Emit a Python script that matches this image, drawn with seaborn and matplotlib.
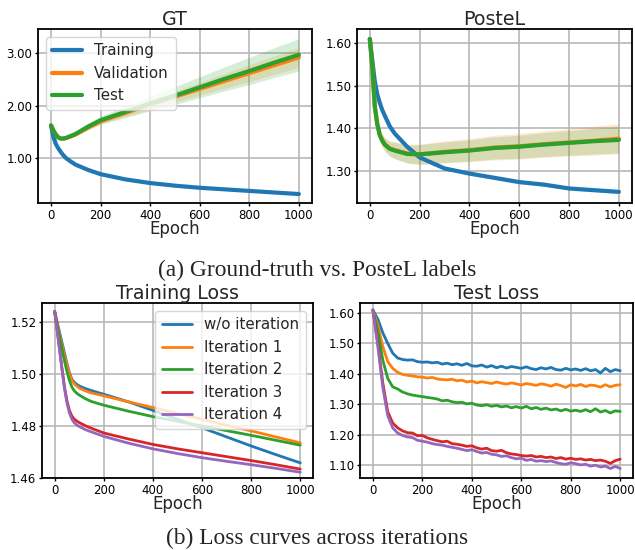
import numpy as np
import pandas as pd
import seaborn as sns
import matplotlib.pyplot as plt
from matplotlib.ticker import MultipleLocator, FormatStrFormatter

# ---- (a) GT vs PosteL: mean curves and std bands ----
ep_top = [0, 10, 20, 30, 40, 50, 60, 80, 100, 150, 200, 300, 400, 500, 600, 700, 800, 900, 1000]

gt_train = [1.62, 1.40, 1.26, 1.18, 1.11, 1.05, 1.00, 0.93, 0.87, 0.77, 0.69, 0.59, 0.52, 0.47, 0.43, 0.40, 0.37, 0.34, 0.31]
gt_val = [1.62, 1.52, 1.44, 1.39, 1.37, 1.37, 1.38, 1.41, 1.45, 1.58, 1.70, 1.86, 2.02, 2.17, 2.32, 2.47, 2.62, 2.77, 2.92]
gt_test = [1.62, 1.52, 1.44, 1.39, 1.37, 1.37, 1.38, 1.42, 1.46, 1.60, 1.72, 1.88, 2.04, 2.19, 2.35, 2.51, 2.66, 2.82, 2.97]
gt_train_sd = [0.0, 0.005, 0.006, 0.006, 0.006, 0.006, 0.006, 0.006, 0.006, 0.006, 0.006, 0.006, 0.006, 0.006, 0.006, 0.006, 0.006, 0.006, 0.006]
gt_val_sd = [0.0, 0.005, 0.008, 0.01, 0.012, 0.014, 0.016, 0.02, 0.025, 0.035, 0.05, 0.07, 0.09, 0.105, 0.12, 0.14, 0.16, 0.175, 0.19]
gt_test_sd = [0.0, 0.006, 0.01, 0.013, 0.016, 0.02, 0.024, 0.03, 0.04, 0.06, 0.08, 0.11, 0.14, 0.17, 0.2, 0.23, 0.26, 0.285, 0.31]

pl_train = [1.61, 1.56, 1.51, 1.48, 1.46, 1.443, 1.43, 1.405, 1.388, 1.357, 1.332, 1.306, 1.294, 1.284, 1.274, 1.268, 1.259, 1.255, 1.251]
pl_val = [1.61, 1.545, 1.452, 1.41, 1.385, 1.372, 1.363, 1.353, 1.349, 1.341, 1.339, 1.345, 1.349, 1.355, 1.358, 1.363, 1.367, 1.371, 1.376]
pl_test = [1.61, 1.545, 1.451, 1.41, 1.384, 1.371, 1.362, 1.352, 1.348, 1.340, 1.339, 1.344, 1.348, 1.354, 1.357, 1.362, 1.366, 1.370, 1.373]
pl_train_sd = [0.0, 0.004, 0.004, 0.004, 0.004, 0.004, 0.004, 0.004, 0.004, 0.004, 0.004, 0.004, 0.004, 0.004, 0.004, 0.004, 0.004, 0.004, 0.004]
pl_val_sd = [0.0, 0.006, 0.01, 0.012, 0.014, 0.015, 0.016, 0.018, 0.02, 0.022, 0.024, 0.026, 0.027, 0.029, 0.03, 0.031, 0.032, 0.034, 0.035]
pl_test_sd = [0.0, 0.005, 0.009, 0.011, 0.013, 0.014, 0.015, 0.017, 0.019, 0.021, 0.023, 0.024, 0.025, 0.026, 0.027, 0.028, 0.029, 0.03, 0.031]

# ---- (b) training loss across iterations ----
ep_tr = [0, 10, 20, 30, 40, 50, 60, 70, 80, 90, 100, 125, 150, 200, 300, 400, 500, 600, 700, 800, 900, 1000]
tr_wo = [1.524, 1.520, 1.516, 1.512, 1.508, 1.504, 1.5005, 1.498, 1.4968, 1.496, 1.4954, 1.4944, 1.4936, 1.4922, 1.4893, 1.4860, 1.4826, 1.4793, 1.4758, 1.4723, 1.4690, 1.4658]
tr_it1 = [1.524, 1.5195, 1.515, 1.511, 1.507, 1.5035, 1.5, 1.4975, 1.4962, 1.4953, 1.4946, 1.4935, 1.4927, 1.4916, 1.4893, 1.4871, 1.4848, 1.4826, 1.4803, 1.4781, 1.4758, 1.4735]
tr_it2 = [1.524, 1.519, 1.514, 1.5095, 1.505, 1.501, 1.4975, 1.495, 1.4935, 1.4926, 1.4919, 1.4905, 1.4894, 1.4880, 1.4857, 1.4836, 1.4818, 1.4800, 1.4782, 1.4764, 1.4745, 1.4726]
tr_it3 = [1.524, 1.517, 1.5095, 1.502, 1.495, 1.4897, 1.486, 1.4838, 1.4826, 1.4819, 1.4813, 1.4801, 1.4791, 1.4773, 1.4750, 1.4729, 1.4712, 1.4697, 1.4682, 1.4667, 1.4651, 1.4634]
tr_it4 = [1.524, 1.5168, 1.5092, 1.5015, 1.4943, 1.4888, 1.485, 1.4826, 1.4812, 1.4804, 1.4798, 1.4786, 1.4777, 1.4760, 1.4734, 1.4712, 1.4694, 1.4678, 1.4664, 1.4651, 1.4637, 1.4622]

# ---- (b) test loss across iterations (every 20 epochs) ----
ep_te = list(range(0, 1001, 20))
te_wo = [1.610, 1.580, 1.535, 1.500, 1.468, 1.452, 1.447, 1.445, 1.446, 1.440, 1.438, 1.439, 1.436, 1.438, 1.432,
         1.435, 1.430, 1.433, 1.428, 1.434, 1.426, 1.425, 1.429, 1.422, 1.427, 1.420, 1.425, 1.419, 1.424, 1.421,
         1.418, 1.423, 1.417, 1.414, 1.420, 1.416, 1.421, 1.414, 1.412, 1.418, 1.413, 1.416, 1.411, 1.417, 1.410,
         1.414, 1.403, 1.418, 1.407, 1.414, 1.410]
te_it1 = [1.610, 1.560, 1.490, 1.440, 1.418, 1.405, 1.398, 1.395, 1.393, 1.390, 1.389, 1.386, 1.388, 1.383, 1.381,
          1.380, 1.382, 1.377, 1.379, 1.373, 1.376, 1.370, 1.374, 1.371, 1.368, 1.373, 1.369, 1.366, 1.370, 1.367,
          1.363, 1.368, 1.365, 1.362, 1.367, 1.364, 1.359, 1.366, 1.361, 1.355, 1.364, 1.360, 1.365, 1.358, 1.363,
          1.361, 1.356, 1.364, 1.357, 1.362, 1.364]
te_it2 = [1.610, 1.540, 1.445, 1.385, 1.357, 1.350, 1.340, 1.334, 1.330, 1.327, 1.325, 1.322, 1.320, 1.317, 1.311,
          1.313, 1.308, 1.305, 1.306, 1.301, 1.303, 1.297, 1.295, 1.298, 1.293, 1.296, 1.291, 1.294, 1.288, 1.292,
          1.287, 1.293, 1.285, 1.289, 1.283, 1.287, 1.281, 1.284, 1.278, 1.283, 1.277, 1.280, 1.276, 1.282, 1.275,
          1.285, 1.274, 1.279, 1.271, 1.278, 1.276]
te_it3 = [1.610, 1.500, 1.370, 1.275, 1.238, 1.222, 1.212, 1.206, 1.205, 1.196, 1.197, 1.189, 1.184, 1.180, 1.176,
          1.178, 1.170, 1.168, 1.165, 1.161, 1.163, 1.156, 1.152, 1.155, 1.147, 1.145, 1.148, 1.140, 1.136, 1.134,
          1.131, 1.129, 1.131, 1.126, 1.128, 1.124, 1.126, 1.121, 1.124, 1.119, 1.122, 1.118, 1.120, 1.116, 1.118,
          1.114, 1.116, 1.112, 1.105, 1.114, 1.119]
te_it4 = [1.610, 1.490, 1.355, 1.262, 1.222, 1.205, 1.197, 1.192, 1.190, 1.181, 1.178, 1.175, 1.170, 1.167, 1.165,
          1.161, 1.158, 1.155, 1.151, 1.147, 1.150, 1.144, 1.139, 1.141, 1.135, 1.133, 1.128, 1.130, 1.124, 1.120,
          1.122, 1.115, 1.118, 1.112, 1.114, 1.111, 1.113, 1.108, 1.104, 1.102, 1.107, 1.104, 1.100, 1.102, 1.096,
          1.099, 1.093, 1.096, 1.088, 1.095, 1.088]

iter_labels = ["w/o iteration", "Iteration 1", "Iteration 2", "Iteration 3", "Iteration 4"]
colors = sns.color_palette("tab10")[:5]

sns.set_style("whitegrid", {"axes.edgecolor": "black", "grid.color": "#b8b8b8",
                            "xtick.bottom": True, "ytick.left": True})
plt.rcParams["font.family"] = ["DejaVu Sans"]

fig = plt.figure(figsize=(6.35, 5.5), dpi=100)
ax_gt = fig.add_axes([0.060, 0.631, 0.431, 0.316])
ax_pl = fig.add_axes([0.562, 0.631, 0.433, 0.316])
ax_tr = fig.add_axes([0.066, 0.131, 0.427, 0.318])
ax_te = fig.add_axes([0.567, 0.131, 0.430, 0.318])


def band_plot(ax, curves):
    for (mean, sd, label), c in zip(curves, colors):
        m = np.array(mean)
        s = np.array(sd)
        ax.fill_between(ep_top, m - s, m + s, color=c, alpha=0.18, linewidth=0)
        sns.lineplot(x=ep_top, y=mean, ax=ax, color=c, linewidth=3, label=label)


band_plot(ax_gt, [(gt_train, gt_train_sd, "Training"), (gt_val, gt_val_sd, "Validation"),
                  (gt_test, gt_test_sd, "Test")])
band_plot(ax_pl, [(pl_train, pl_train_sd, "Training"), (pl_val, pl_val_sd, "Validation"),
                  (pl_test, pl_test_sd, "Test")])
ax_pl.get_legend().remove()

for series, label, c in zip([tr_wo, tr_it1, tr_it2, tr_it3, tr_it4], iter_labels, colors):
    sns.lineplot(x=ep_tr, y=series, ax=ax_tr, color=c, linewidth=2, label=label)
for series, label, c in zip([te_wo, te_it1, te_it2, te_it3, te_it4], iter_labels, colors):
    sns.lineplot(x=ep_te, y=series, ax=ax_te, color=c, linewidth=2, label=label)
ax_te.get_legend().remove()

ax_gt.set_ylim(0.14, 3.46)
ax_gt.yaxis.set_major_locator(MultipleLocator(1.0))
ax_pl.set_ylim(1.225, 1.633)
ax_pl.yaxis.set_major_locator(MultipleLocator(0.1))
ax_tr.set_ylim(1.46, 1.5273)
ax_tr.yaxis.set_major_locator(MultipleLocator(0.02))
ax_te.set_ylim(1.057, 1.633)
ax_te.yaxis.set_major_locator(MultipleLocator(0.1))

titles = {ax_gt: "GT", ax_pl: "PosteL", ax_tr: "Training Loss", ax_te: "Test Loss"}
for ax, t in titles.items():
    ax.set_xlim(-52, 1052)
    ax.xaxis.set_major_locator(MultipleLocator(200))
    ax.yaxis.set_major_formatter(FormatStrFormatter("%.2f"))
    ax.set_title(t, fontsize=13.7, pad=3)
    ax.set_xlabel("Epoch", fontsize=12, labelpad=-1)
    ax.set_ylabel("")
    ax.tick_params(axis="both", labelsize=8.5, length=2.5, width=1, pad=1.5, colors="black")
    ax.grid(True, linewidth=1.2)
    for sp in ax.spines.values():
        sp.set_linewidth(1.3)
        sp.set_color("black")

ax_gt.legend(loc="upper left", fontsize=10.8, handlelength=2.0, borderpad=0.45,
             labelspacing=0.5, handletextpad=0.8, borderaxespad=0.5)
ax_tr.legend(loc="upper right", fontsize=10.8, handlelength=2.0, borderpad=0.45,
             labelspacing=0.5, handletextpad=0.8, borderaxespad=0.5)

fig.text(0.5, 1 - 270 / 550, "(a) Ground-truth vs. PosteL labels", ha="center", va="center",
         family="Liberation Serif", fontsize=16.8)
fig.text(0.5, 1 - 538 / 550, "(b) Loss curves across iterations", ha="center", va="center",
         family="Liberation Serif", fontsize=16.8)

fig.savefig("out.png", dpi=100)
